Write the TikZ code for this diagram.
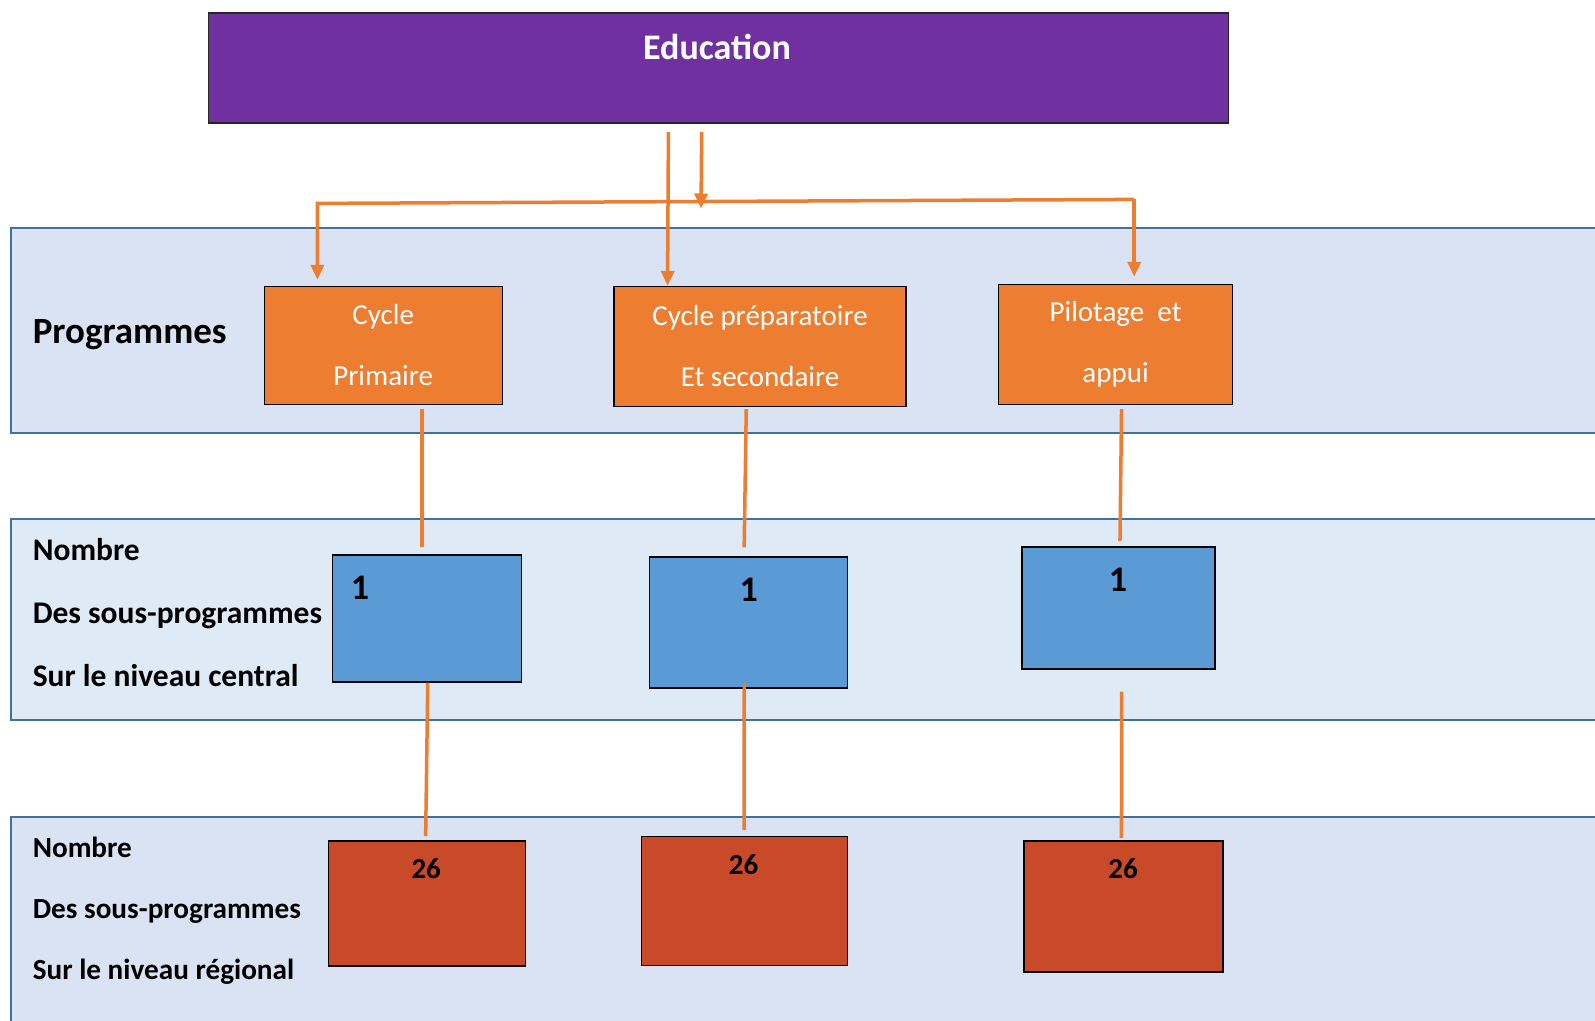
\documentclass[tikz,border=0pt]{standalone}
\usepackage{fontspec}
\setmainfont{Carlito}
\usetikzlibrary{arrows.meta}
\definecolor{edupurple}{HTML}{7030A0}
\definecolor{bandA}{HTML}{DAE3F3}
\definecolor{bandB}{HTML}{DEEBF7}
\definecolor{bandline}{HTML}{41719C}
\definecolor{progorange}{HTML}{ED7D31}
\definecolor{centblue}{HTML}{5B9BD5}
\definecolor{regred}{HTML}{C94A28}
\tikzset{
	band/.style={draw=bandline,line width=2pt},
	edubox/.style={draw=black!85,line width=1.8pt,fill=edupurple,anchor=north west,inner sep=0pt},
	progbox/.style={draw=black,line width=1.3pt,fill=progorange,text=white,align=center,anchor=north west,inner sep=0pt,font=\fontsize{29}{61}\selectfont},
	centbox/.style={draw=black,line width=1.3pt,fill=centblue,anchor=north west,inner sep=0pt},
	regbox/.style={draw=black,line width=1.3pt,fill=regred,anchor=north west,inner sep=0pt},
	rowlabel/.style={anchor=west,align=left,inner sep=0pt,font=\bfseries\fontsize{31.5}{63}\selectfont},
	num/.style={inner sep=0pt,font=\bfseries\fontsize{36}{36}\selectfont},
	conn/.style={draw=progorange,line width=3.5pt},
	arr/.style={conn,-{Triangle[length=15pt,width=13pt]}},
}
\begin{document}
\begin{tikzpicture}[x=1pt,y=-1pt]
	\clip (0,0) rectangle (1595,1020);
	\fill[white] (0,0) rectangle (1595,1020);
	
	% bandes
	\draw[band,fill=bandA] (11,228) rectangle (1610,433);
	\draw[band,fill=bandB] (11,519) rectangle (1610,720);
	\draw[band,fill=bandA] (11,817) rectangle (1610,1040);
	
	\node[edubox,minimum width=1020pt,minimum height=110pt] (edu) at (207.5,12.2) {};
	\node[num,text=white] (edut) at (717,47) {Education};
	
	\node[rowlabel,font=\bfseries\fontsize{37}{44}\selectfont] (lprog) at (32.6,335) {Programmes};
	\node[rowlabel] (lcent) at (32.6,613) {Nombre\\Des sous-programmes\\Sur le niveau central};
	\node[rowlabel,font=\bfseries\fontsize{29.2}{61}\selectfont] (lreg) at (32.6,910.5) {Nombre\\Des sous-programmes\\Sur le niveau régional};
	
	\node[progbox,minimum width=238pt,minimum height=118pt] (prim) at (263.5,285.8) {Cycle\\Primaire};
	\node[progbox,minimum width=292pt,minimum height=120pt] (prep) at (613.4,285.8) {Cycle préparatoire\\Et secondaire};
	\node[progbox,minimum width=234pt,minimum height=120pt] (pil) at (997.9,283.8) {Pilotage\ \ et\\appui};
	
	\node[centbox,minimum width=189pt,minimum height=127pt] (c1) at (331.6,554.4) {};
	\node[centbox,minimum width=198pt,minimum height=131pt] (c2) at (649,556.4) {};
	\node[centbox,minimum width=193pt,minimum height=122pt] (c3) at (1021.3,546.2) {};
	\node[num] (n1) at (360,588) {1};
	\node[num] (n2) at (748.7,590) {1};
	\node[num] (n3) at (1117.9,579.8) {1};
	
	\node[regbox,minimum width=197pt,minimum height=125pt] (r1) at (327.5,840.2) {};
	\node[regbox,minimum width=206pt,minimum height=129pt] (r2) at (640.8,836.1) {};
	\node[regbox,minimum width=199pt,minimum height=131pt] (r3) at (1023.3,840.2) {};
	\node[num,font=\bfseries\fontsize{29}{29}\selectfont] (m1) at (426.2,868.7) {26};
	\node[num,font=\bfseries\fontsize{29}{29}\selectfont] (m2) at (743.6,864.6) {26};
	\node[num,font=\bfseries\fontsize{29}{29}\selectfont] (m3) at (1123,868.7) {26};
	
	% fleches
	\coordinate (hl) at (317.4,203.4);
	\coordinate (hr) at (1134.2,199.4);
	\coordinate (hm) at (701,208.5);
	\draw[arr] ([xshift=-50pt,yshift=-8pt]edu.south) -- ([xshift=-92.5pt]prep.north);
	\draw[arr] ([xshift=-16.7pt,yshift=-8pt]edu.south) -- (hm);
	\draw[arr] (hr) -- (hl) -- ([yshift=6pt]hl |- prim.north);
	\draw[arr] (hr) -- ([yshift=7pt]hr |- pil.north);
	
	\draw[conn] ([xshift=38.6pt,yshift=-4pt]prim.south) -- ([xshift=-5pt,yshift=7pt]c1.north);
	\draw[conn] ([xshift=-13.8pt,yshift=-2pt]prep.south) -- ([xshift=-4.5pt,yshift=9pt]c2.north);
	\draw[conn] ([xshift=6pt,yshift=-4pt]pil.south) -- ([xshift=1.5pt,yshift=5pt]c3.north);
	
	\draw[conn] ([xshift=1pt]c1.south) -- ([xshift=-1pt,yshift=4pt]r1.north);
	\draw[conn] ([xshift=-4.4pt,yshift=5pt]c2.south) -- ([xshift=-0.4pt,yshift=6pt]r2.north);
	\draw[conn] ([xshift=3.2pt,yshift=-22pt]c3.south) -- ([xshift=-2pt,yshift=2pt]r3.north);
\end{tikzpicture}
\end{document}
